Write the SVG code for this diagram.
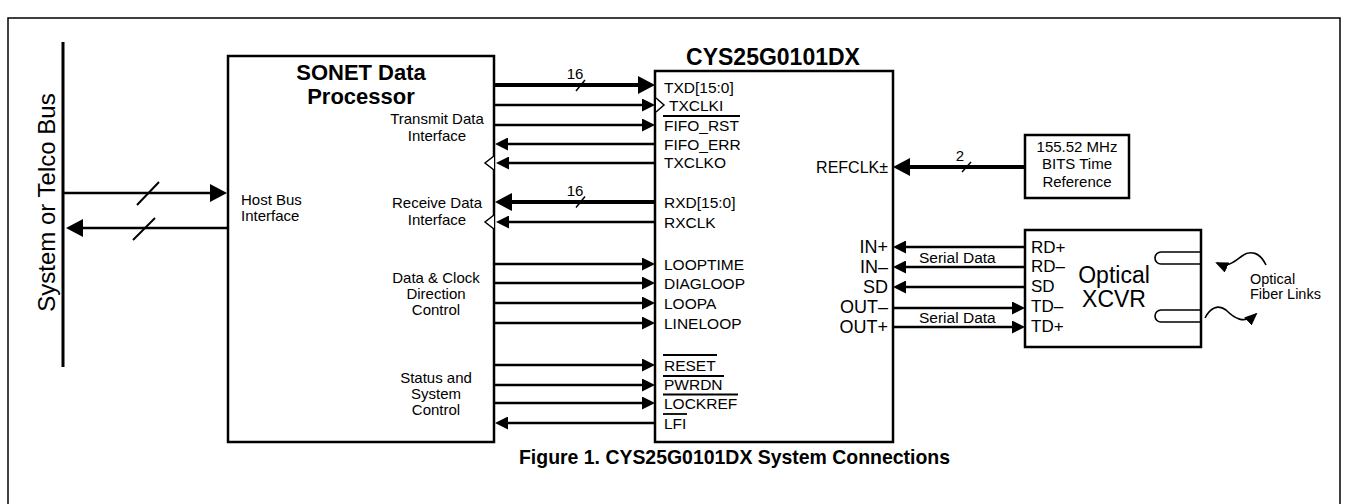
<svg xmlns="http://www.w3.org/2000/svg" width="1351" height="504" viewBox="0 0 1351 504">
<style>
text{font-family:"Liberation Sans",Arial,Helvetica,sans-serif;fill:#000}
.box{fill:#fff;stroke:#000;stroke-width:2.5}
.sig{fill:none;stroke:#000;stroke-width:2.5}
.bus{fill:none;stroke:#000;stroke-width:4}
.thin{fill:none;stroke:#000;stroke-width:1.6}
.clk{fill:#fff;stroke:#000;stroke-width:1.5}
.pin{font-size:15.5px}
.lbl{font-size:15px;text-anchor:middle}
.io{font-size:18px;text-anchor:end}
.xl{font-size:17px}
.b{font-weight:bold}
</style>
<defs>
<marker id="m" markerUnits="userSpaceOnUse" markerWidth="13" markerHeight="13" refX="9" refY="6.5" orient="auto"><path d="M0,0 L13,6.5 L0,13 z" fill="#000"/></marker>
<marker id="mb" markerUnits="userSpaceOnUse" markerWidth="17" markerHeight="18" refX="13" refY="9" orient="auto"><path d="M0,0 L17,9 L0,18 z" fill="#000"/></marker>
<marker id="ms" markerUnits="userSpaceOnUse" markerWidth="13" markerHeight="11" refX="11" refY="5.5" orient="auto"><path d="M0,0 L13,5.5 L0,11 z" fill="#000"/></marker>
</defs>
<rect width="1351" height="504" fill="#fff"/>
<rect x="8" y="18" width="1332" height="500" fill="none" stroke="#000" stroke-width="1.5"/>

<g id="system-bus">
<line x1="63" y1="42" x2="63" y2="367" stroke="#000" stroke-width="3"/>
<text transform="translate(55,202.5) rotate(-90)" text-anchor="middle" font-size="24">System or Telco Bus</text>
</g>

<g id="sonet-data-processor">
<rect class="box" x="228" y="56" width="266" height="386"/>
<text class="b" font-size="22" text-anchor="middle" x="361" y="80">SONET Data</text>
<text class="b" font-size="22" text-anchor="middle" x="361" y="104">Processor</text>
<text class="lbl" x="437" y="124">Transmit Data</text>
<text class="lbl" x="437" y="141">Interface</text>
<text font-size="15" x="241" y="205">Host Bus</text>
<text font-size="15" x="241" y="221">Interface</text>
<text class="lbl" x="437" y="208">Receive Data</text>
<text class="lbl" x="437" y="225">Interface</text>
<text class="lbl" x="436" y="283">Data &amp; Clock</text>
<text class="lbl" x="436" y="299">Direction</text>
<text class="lbl" x="436" y="315">Control</text>
<text class="lbl" x="436" y="383">Status and</text>
<text class="lbl" x="436" y="399">System</text>
<text class="lbl" x="436" y="415">Control</text>
<polyline class="clk" points="494,156 485,163 494,170"/>
<polyline class="clk" points="494,215 485,222 494,229"/>
</g>

<g id="cys25g0101dx">
<text class="b" font-size="23" text-anchor="middle" x="773" y="65">CYS25G0101DX</text>
<rect class="box" x="655" y="71" width="238" height="371" stroke-width="3"/>
<polyline class="clk" points="656,98 664,105 656,112"/>
<text class="pin" x="664" y="93">TXD[15:0]</text>
<text class="pin" x="669" y="111">TXCLKI</text>
<text class="pin" x="664" y="130.5">FIFO_RST</text>
<text class="pin" x="664" y="150">FIFO_ERR</text>
<text class="pin" x="664" y="168">TXCLKO</text>
<text class="pin" x="664" y="208">RXD[15:0]</text>
<text class="pin" x="664" y="228">RXCLK</text>
<text class="pin" x="664" y="270">LOOPTIME</text>
<text class="pin" x="664" y="289">DIAGLOOP</text>
<text class="pin" x="664" y="309">LOOPA</text>
<text class="pin" x="664" y="329">LINELOOP</text>
<text class="pin" x="664" y="371">RESET</text>
<text class="pin" x="664" y="390">PWRDN</text>
<text class="pin" x="664" y="409">LOCKREF</text>
<text class="pin" x="664" y="429">LFI</text>
<g stroke="#000" stroke-width="1.8">
<line x1="663" y1="116" x2="740" y2="116"/>
<line x1="663" y1="355" x2="717" y2="355"/>
<line x1="663" y1="376" x2="724" y2="376"/>
<line x1="663" y1="394.5" x2="738" y2="394.5"/>
<line x1="663" y1="414" x2="687" y2="414"/>
</g>
<text font-size="16" text-anchor="end" x="888" y="173">REFCLK±</text>
<text class="io" x="888" y="253">IN+</text>
<text class="io" x="888" y="273">IN–</text>
<text class="io" x="888" y="293">SD</text>
<text class="io" x="888" y="313">OUT–</text>
<text class="io" x="888" y="333">OUT+</text>
</g>

<g id="bits-time-reference">
<rect class="box" x="1025" y="135" width="104" height="63"/>
<text class="lbl" x="1077" y="152">155.52 MHz</text>
<text class="lbl" x="1077" y="169">BITS Time</text>
<text class="lbl" x="1077" y="187">Reference</text>
</g>

<g id="optical-xcvr">
<rect class="box" x="1025" y="230" width="176" height="117" stroke-width="2"/>
<text class="xl" x="1031" y="253">RD+</text>
<text class="xl" x="1031" y="272">RD–</text>
<text class="xl" x="1031" y="292">SD</text>
<text class="xl" x="1031" y="312">TD–</text>
<text class="xl" x="1031" y="332">TD+</text>
<text font-size="23" text-anchor="middle" x="1114" y="283">Optical</text>
<text font-size="23" text-anchor="middle" x="1114" y="307">XCVR</text>
<path class="thin" d="M1201,252 H1161 A6,6 0 0 0 1161,264 H1201"/>
<path class="thin" d="M1201,310 H1161 A6,6 0 0 0 1161,322 H1201"/>
</g>

<g id="optical-fiber-links">
<path class="thin" d="M1266,265 C1260,252 1250,250 1242,256 C1234,262 1228,268 1217,263" marker-end="url(#ms)"/>
<path class="thin" d="M1205,318 C1210,308 1218,304 1226,310 C1234,318 1244,325 1256,314" marker-end="url(#ms)"/>
<text font-size="14.5" x="1250" y="284">Optical</text>
<text font-size="14.5" x="1250" y="299">Fiber Links</text>
</g>

<g id="connectors">
<path class="sig" stroke-width="3.5" d="M63,193 H223" marker-end="url(#mb)"/>
<path class="sig" stroke-width="3.5" d="M228,228 H70" marker-end="url(#mb)"/>
<line x1="137" y1="205" x2="159" y2="182" stroke="#000" stroke-width="2"/>
<line x1="133" y1="240" x2="155" y2="218" stroke="#000" stroke-width="2"/>

<path class="bus" d="M494,85 H651" marker-end="url(#mb)"/>
<path class="sig" d="M494,105 H651" marker-end="url(#m)"/>
<path class="sig" d="M494,125 H651" marker-end="url(#m)"/>
<path class="sig" d="M655,144 H499" marker-end="url(#m)"/>
<path class="sig" d="M655,163 H500" marker-end="url(#m)"/>
<path class="bus" d="M655,202 H499" marker-end="url(#mb)"/>
<path class="sig" d="M655,222 H500" marker-end="url(#m)"/>
<path class="sig" d="M494,264 H651" marker-end="url(#m)"/>
<path class="sig" d="M494,283 H651" marker-end="url(#m)"/>
<path class="sig" d="M494,303 H651" marker-end="url(#m)"/>
<path class="sig" d="M494,323 H651" marker-end="url(#m)"/>
<path class="sig" d="M494,365 H651" marker-end="url(#m)"/>
<path class="sig" d="M494,385 H651" marker-end="url(#m)"/>
<path class="sig" d="M494,403 H651" marker-end="url(#m)"/>
<path class="sig" d="M655,423 H499" marker-end="url(#m)"/>
<text font-size="15" text-anchor="middle" x="575" y="79">16</text>
<line x1="576" y1="91" x2="585" y2="80" stroke="#000" stroke-width="1.5"/>
<text font-size="15" text-anchor="middle" x="575" y="195.5">16</text>
<line x1="576" y1="207.5" x2="585" y2="196.5" stroke="#000" stroke-width="1.5"/>

<path class="bus" d="M1025,167 H897" marker-end="url(#mb)"/>
<text font-size="15" text-anchor="middle" x="960" y="160.5">2</text>
<line x1="962" y1="172" x2="971" y2="162" stroke="#000" stroke-width="1.5"/>

<path class="sig" d="M1025,247 H897" marker-end="url(#m)"/>
<path class="sig" d="M1025,267 H897" marker-end="url(#m)"/>
<path class="sig" d="M1025,287 H897" marker-end="url(#m)"/>
<path class="sig" d="M893,308 H1021" marker-end="url(#m)"/>
<path class="sig" d="M893,327 H1021" marker-end="url(#m)"/>
<text font-size="15.5" x="919" y="263">Serial Data</text>
<text font-size="15.5" x="919" y="323">Serial Data</text>
</g>

<text id="caption" class="b" font-size="21" x="519" y="464" textLength="431" lengthAdjust="spacingAndGlyphs">Figure 1. CYS25G0101DX System Connections</text>
</svg>
